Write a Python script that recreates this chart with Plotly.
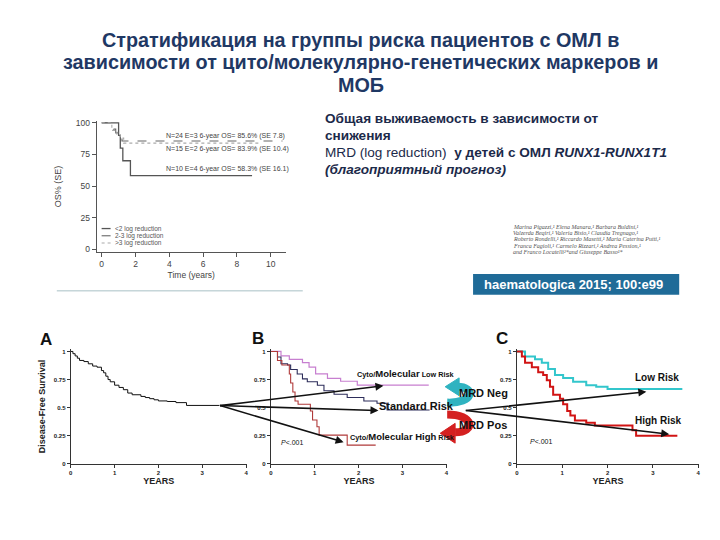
import plotly.graph_objects as go

W, H = 720, 540
OFF = 8  # the page body margin pushes the figure 8px right/down

# --- data -----------------------------------------------------------------
# top-left: OS by MRD log reduction (RUNX1-RUNX1T1)
os_lt2_t = [0, 1.0, 1.1, 1.25, 1.7, 8.9]
os_lt2_s = [100, 90, 80, 70, 58.3, 58.3]
os_23_t = [0, 0.7, 0.83, 0.98, 1.2, 10.7]
os_23_s = [100, 95, 92, 90, 85.6, 85.6]
os_gt3_t = [0, 0.6, 0.9, 1.1, 1.3, 9.3]
os_gt3_s = [100, 94, 91, 88, 83.9, 83.9]
os_legend = ["&lt;2 log reduction", "2-3 log reduction", "&gt;3 log reduction"]
os_notes = ["N=24 E=3 6-year OS= 85.6% (SE 7.8)",
            "N=15 E=2 6-year OS= 83.9% (SE 10.4)",
            "N=10 E=4 6-year OS= 58.3% (SE 16.1)"]

# panel A: disease-free survival, all patients
a_t = [0, 0.05, 0.1, 0.15, 0.2, 0.3, 0.4, 0.5, 0.6, 0.7, 0.75, 0.8, 0.85, 0.9,
       1.0, 1.1, 1.2, 1.3, 1.4, 1.6, 1.7, 1.8, 1.9, 2.0, 2.2, 2.4, 2.64, 3.39]
a_s = [1, 0.98, 0.96, 0.94, 0.92, 0.91, 0.89, 0.87, 0.86, 0.83, 0.81, 0.78, 0.75, 0.73,
       0.70, 0.68, 0.66, 0.63, 0.615, 0.60, 0.59, 0.58, 0.57, 0.56, 0.555, 0.545, 0.52, 0.52]

# panel B: cyto/molecular risk groups
b_low_t = [0, 0.23, 0.42, 0.72, 0.87, 1.02, 1.29, 1.59, 1.97, 3.6]
b_low_s = [1, 0.96, 0.93, 0.90, 0.86, 0.80, 0.76, 0.735, 0.70, 0.70]
b_std_t = [0, 0.15, 0.23, 0.38, 0.45, 0.6, 0.72, 0.83, 1.06, 1.21, 1.44, 1.74, 2.12, 2.42, 2.65, 3.62]
b_std_s = [1, 0.95, 0.89, 0.88, 0.84, 0.80, 0.756, 0.73, 0.70, 0.65, 0.62, 0.59, 0.56, 0.54, 0.48, 0.48]
b_high_t = [0, 0.15, 0.25, 0.42, 0.45, 0.5, 0.55, 0.62, 0.9, 0.95, 1.05, 1.1, 1.74, 2.39]
b_high_s = [1, 0.92, 0.88, 0.80, 0.72, 0.64, 0.56, 0.53, 0.47, 0.39, 0.33, 0.256, 0.167, 0.167]

# panel C: MRD neg / pos
c_low_t = [0, 0.18, 0.4, 0.55, 0.69, 0.84, 1.02, 1.24, 1.53, 1.75, 2.0, 3.65]
c_low_s = [1, 0.954, 0.93, 0.90, 0.845, 0.79, 0.765, 0.73, 0.70, 0.687, 0.667, 0.667]
c_high_t = [0, 0.11, 0.18, 0.33, 0.47, 0.58, 0.66, 0.73, 0.8, 0.95, 1.02, 1.11, 1.18, 1.28,
            1.53, 1.72, 2.55, 2.63, 3.54]
c_high_s = [1, 0.954, 0.90, 0.86, 0.816, 0.79, 0.744, 0.687, 0.615, 0.58, 0.53, 0.47, 0.43,
            0.385, 0.365, 0.342, 0.30, 0.25, 0.25]

title_lines = ["Стратификация на группы риска пациентов с ОМЛ в",
               "зависимости от цито/молекулярно-генетических маркеров и",
               "МОБ"]
authors = ["Marina Pigazzi,¹ Elena Manara,¹ Barbara Buldini,¹",
           "Valzerda Beqiri,¹ Valeria Bisio,¹ Claudia Tregnago,¹",
           "Roberto Rondelli,¹ Riccardo Masetti,¹ Maria Caterina Putti,¹",
           "Franca Fagioli,¹ Carmelo Rizzari,¹ Andrea Pession,¹",
           "and Franco Locatelli²*and Giuseppe Basso¹*"]


def fx(x):
    return (x - OFF) / W


def fy(y):
    return 1 - (y - OFF) / H


def P(x, y):
    return f"{fx(x):.5f},{fy(y):.5f}"


ARIAL = "Liberation Sans, Arial, sans-serif"
NAVY = "#1f3864"
GREY = "#444"

fig = go.Figure()

# top-left OS plot
fig.add_trace(go.Scatter(x=os_lt2_t, y=os_lt2_s, mode="lines", line_shape="hv",
                         line=dict(color="#555", width=1.3), xaxis="x", yaxis="y"))
fig.add_trace(go.Scatter(x=os_23_t, y=os_23_s, mode="lines", line_shape="hv",
                         line=dict(color="#666", width=1.1, dash="dash"), xaxis="x", yaxis="y"))
fig.add_trace(go.Scatter(x=os_gt3_t, y=os_gt3_s, mode="lines", line_shape="hv",
                         line=dict(color="#aaa", width=1.1, dash="dot"), xaxis="x", yaxis="y"))

# panels
fig.add_trace(go.Scatter(x=a_t, y=a_s, mode="lines", line_shape="hv",
                         line=dict(color="#111", width=1), xaxis="x2", yaxis="y2"))
fig.add_trace(go.Scatter(x=b_low_t, y=b_low_s, mode="lines", line_shape="hv",
                         line=dict(color="#c77fd0", width=1.2), xaxis="x3", yaxis="y3"))
fig.add_trace(go.Scatter(x=b_std_t, y=b_std_s, mode="lines", line_shape="hv",
                         line=dict(color="#2d2d5a", width=1.1), xaxis="x3", yaxis="y3"))
fig.add_trace(go.Scatter(x=b_high_t, y=b_high_s, mode="lines", line_shape="hv",
                         line=dict(color="#b03a3a", width=1.1), xaxis="x3", yaxis="y3"))
fig.add_trace(go.Scatter(x=c_low_t, y=c_low_s, mode="lines", line_shape="hv",
                         line=dict(color="#33c6cc", width=2), xaxis="x4", yaxis="y4"))
fig.add_trace(go.Scatter(x=c_high_t, y=c_high_s, mode="lines", line_shape="hv",
                         line=dict(color="#d11414", width=2), xaxis="x4", yaxis="y4"))

os_ax = dict(showline=True, linecolor="#555", ticks="outside", ticklen=4, tickcolor="#555",
             showgrid=False, zeroline=False, tickfont=dict(family=ARIAL, size=8.5, color=GREY))
fig.update_layout(
    xaxis=dict(os_ax, domain=[fx(95), fx(285)], range=[-0.3, 10.9], tickvals=[0, 2, 4, 6, 8, 10],
               anchor="y", title=dict(text="Time (years)", font=dict(family=ARIAL, size=8.5, color=GREY),
                                      standoff=3)),
    yaxis=dict(os_ax, domain=[fy(252), fy(119)], range=[-2.4, 101.6], tickvals=[0, 25, 50, 75, 100],
               anchor="x", title=dict(text="OS% (SE)", font=dict(family=ARIAL, size=9, color=GREY),
                                      standoff=12)),
)

pan_ax = dict(showline=True, linecolor="#333", linewidth=1, ticks="outside", ticklen=3, tickcolor="#333",
              showgrid=False, zeroline=False,
              tickfont=dict(family=ARIAL, size=6, color="#222", weight="bold"))
ytick = dict(pan_ax, tickvals=[0, 0.25, 0.5, 0.75, 1], ticktext=["0", "0.25", "0.5", "0.75", "1"],
             domain=[fy(466), fy(350)], range=[0, 1.02])
years = dict(text="YEARS", font=dict(family=ARIAL, size=9, color="#222", weight="bold"), standoff=2)
fig.update_layout(
    xaxis2=dict(pan_ax, domain=[fx(69), fx(246)], range=[0, 4.02], tickvals=[0, 1, 2, 3, 4],
                anchor="y2", title=years),
    yaxis2=dict(ytick, anchor="x2",
                title=dict(text="Disease-Free Survival",
                           font=dict(family=ARIAL, size=9, color="#222", weight="bold"), standoff=6)),
    xaxis3=dict(pan_ax, domain=[fx(270), fx(447)], range=[0, 4.02], tickvals=[0, 1, 2, 3, 4],
                anchor="y3", title=years),
    yaxis3=dict(ytick, anchor="x3"),
    xaxis4=dict(pan_ax, domain=[fx(517), fx(700)], range=[0, 4.02], tickvals=[0, 1, 2, 3, 4],
                anchor="y4", title=years),
    yaxis4=dict(ytick, anchor="x4"),
)

ann = []


def text(x, y, s, size, color="#222", family=ARIAL, anchor="left", **kw):
    ann.append(dict(x=fx(x), y=fy(y), xref="paper", yref="paper", text=s, showarrow=False,
                    xanchor=anchor, yanchor="middle", font=dict(family=family, size=size, color=color, **kw)))


# title
for i, line in enumerate(title_lines):
    text(360, 37 + i * 23, line, 19.8, NAVY, anchor="center", weight="bold")

# description
desc = ["Общая выживаемость в зависимости от",
        "снижения",
        "<span style='font-weight:normal'>MRD (log reduction)</span>  у детей с ОМЛ <i>RUNX1-RUNX1T1</i>",
        "<i>(благоприятный прогноз)</i>"]
for i, line in enumerate(desc):
    text(322, 117 + i * 17, line, 13.6, "#1c2a4a", weight="bold")

# OS plot notes and legend
for yy, note in zip([134, 148, 168], os_notes):
    text(163, yy, note, 7, GREY)
for i, lab in enumerate(os_legend):
    text(111, 228 + i * 7.3, lab, 6.5, "#555")

# authors + banner
for i, line in enumerate(authors):
    text(511, 226 + i * 6.5, line, 6, "#555", "Liberation Serif, serif", style="italic")
ann.append(dict(x=fx(482), y=fy(285), xref="paper", yref="paper", text="haematologica 2015; 100:e99",
                showarrow=False, xanchor="left", yanchor="middle",
                font=dict(family=ARIAL, size=13, color="white", weight="bold")))

# panel letters and labels
for lx, ly, letter in [(42, 340, "A"), (255, 339, "B"), (500, 339, "C")]:
    text(lx - 6, ly, letter, 17, "#111", weight="bold")
text(354, 375, "Cyto/<span style='font-size:9.5px'>Molecular</span> Low Risk", 7.3, "#111", weight="bold")
text(377, 407, "Standard Risk", 11, "#111", weight="bold")
text(347, 438, "Cyto/<span style='font-size:9.5px'>Molecular High</span> Risk", 7.3, "#111", weight="bold")
text(278, 444, "<i>P</i>&lt;.001", 7, "#111")
text(528, 443, "<i>P</i>&lt;.001", 7, "#111")
text(634, 379, "Low Risk", 10, "#111", weight="bold")
text(634, 422, "High Risk", 10, "#111", weight="bold")

# straight arrows (head, tail in pixels)
arrows = [((383, 387), (218, 407)), ((378, 412), (218, 407)), ((343, 444), (218, 407)),
          ((647, 393), (465, 412)), ((670, 436), (465, 412))]
for (hx, hy), (tx, ty) in arrows:
    ann.append(dict(x=fx(hx), y=fy(hy), xref="paper", yref="paper", ax=tx - hx, ay=ty - hy,
                    axref="pixel", ayref="pixel", showarrow=True, arrowhead=2, arrowsize=1,
                    arrowwidth=1.6, arrowcolor="#111", text=""))

text(483, 394, "MRD Neg", 11, "#111", anchor="center", weight="bold")
text(483, 427, "MRD Pos", 11, "#111", anchor="center", weight="bold")

shapes = [
    # separator under OS plot
    dict(type="line", xref="paper", yref="paper", x0=fx(55), x1=fx(302), y0=fy(291), y1=fy(291),
         line=dict(color="#a9c0c6", width=1)),
    # banner
    dict(type="rect", xref="paper", yref="paper", x0=fx(473), x1=fx(680), y0=fy(295), y1=fy(274),
         fillcolor="#1f6b98", line=dict(width=0), layer="below"),
    # legend samples
    dict(type="line", xref="paper", yref="paper", x0=fx(100), x1=fx(109), y0=fy(228), y1=fy(228),
         line=dict(color="#555", width=1.3)),
    dict(type="line", xref="paper", yref="paper", x0=fx(100), x1=fx(109), y0=fy(235.3), y1=fy(235.3),
         line=dict(color="#666", width=1.1, dash="dash")),
    dict(type="line", xref="paper", yref="paper", x0=fx(100), x1=fx(109), y0=fy(242.6), y1=fy(242.6),
         line=dict(color="#aaa", width=1.1, dash="dot")),
    # curved MRD arrows
    dict(type="path", xref="paper", yref="paper",
         path=f"M {P(447, 404)} C {P(474, 405)} {P(476, 388)} {P(457, 388)}",
         line=dict(color="#2fb3c0", width=8)),
    dict(type="path", xref="paper", yref="paper",
         path=f"M {P(445, 388)} L {P(459, 379)} L {P(459, 397)} Z",
         fillcolor="#2fb3c0", line=dict(color="#2fb3c0", width=1)),
    dict(type="path", xref="paper", yref="paper",
         path=f"M {P(447, 416)} C {P(474, 416)} {P(476, 434)} {P(455, 434)}",
         line=dict(color="#d42020", width=8)),
    dict(type="path", xref="paper", yref="paper",
         path=f"M {P(440, 435)} L {P(455, 425)} L {P(455, 445)} Z",
         fillcolor="#d42020", line=dict(color="#d42020", width=1)),
]

fig.update_layout(width=W, height=H, margin=dict(l=0, r=0, t=0, b=0), showlegend=False,
                  paper_bgcolor="white", plot_bgcolor="white", annotations=ann, shapes=shapes)

fig.write_html("out.html")
